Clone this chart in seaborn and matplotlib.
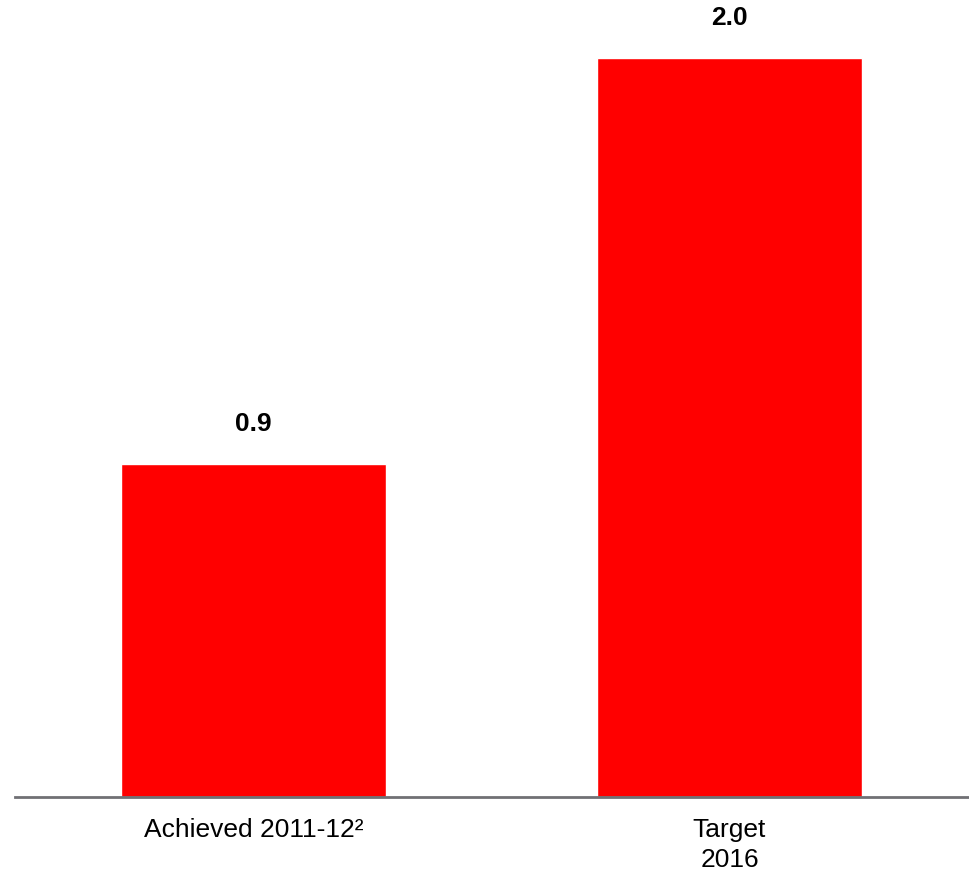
import matplotlib
matplotlib.use("Agg")
import matplotlib.pyplot as plt
import seaborn as sns
import pandas as pd

categories = ["Achieved 2011-12²", "Target\n2016"]
values = [0.9, 2.0]
value_labels = ["0.9", "2.0"]

sns.set_theme(style="white")
plt.rcParams["font.family"] = ["Liberation Sans", "DejaVu Sans"]

df = pd.DataFrame({"category": categories, "value": values})

fig = plt.figure(figsize=(9.69, 8.72), dpi=100)
ax = fig.add_axes([15 / 969, 75 / 872, 954 / 969, 797 / 872])

sns.barplot(data=df, x="category", y="value", color="#ff0000",
            saturation=1, width=0.557, ax=ax)

ax.set_xlim(-0.501, 1.503)
ax.set_ylim(0, 2.0 * 797 / 739)

for patch, lab in zip(ax.patches, value_labels):
    ax.annotate(lab, (patch.get_x() + patch.get_width() / 2, patch.get_height()),
                xytext=(0, 29), textcoords="offset points",
                ha="center", va="center", fontsize=19, fontweight="bold",
                color="black")

for side in ["top", "right", "left"]:
    ax.spines[side].set_visible(False)
ax.spines["bottom"].set_color("#707074")
ax.spines["bottom"].set_linewidth(2)

ax.set_xlabel("")
ax.set_ylabel("")
ax.set_yticks([])
ax.tick_params(axis="x", length=0, pad=15, labelsize=19, labelcolor="black")
for t in ax.get_xticklabels():
    t.set_linespacing(1.3)

fig.savefig("out.png", dpi=100)
